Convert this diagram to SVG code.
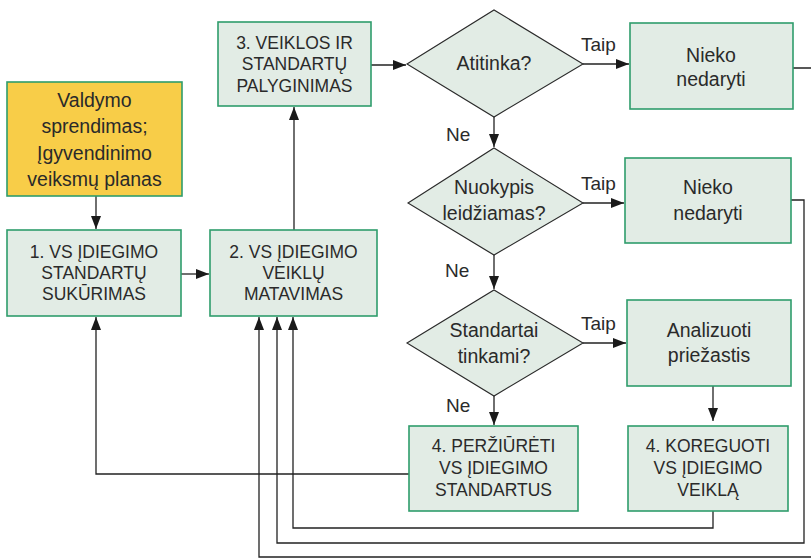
<svg xmlns="http://www.w3.org/2000/svg" width="811" height="558" viewBox="0 0 811 558">
  <style>
    .box { fill: #e2ece5; stroke: #2f9d6c; stroke-width: 1.6; }
    .yellow { fill: #f8cd48; stroke: #2f9d6c; stroke-width: 1.6; }
    .dia { fill: #e2ece5; stroke: #2a2a2a; stroke-width: 1.1; }
    .t { font-family: "Liberation Sans", Arial, sans-serif; font-size: 19.5px; fill: #2a2a2a; text-anchor: middle; }
    .c { font-family: "Liberation Sans", Arial, sans-serif; font-size: 17.5px; fill: #2a2a2a; text-anchor: middle; }
    .lbl { font-family: "Liberation Sans", Arial, sans-serif; font-size: 19px; fill: #2a2a2a; }
    .ln { fill: none; stroke: #222; stroke-width: 1.3; }
  </style>
  <defs>
    <marker id="ah" markerUnits="userSpaceOnUse" markerWidth="14" markerHeight="12" refX="13" refY="6" orient="auto">
      <path d="M0,1 L13,6 L0,11 z" fill="#1a1a1a"/>
    </marker>
  </defs>

  <rect width="811" height="558" fill="#ffffff"/>

  <!-- connectors -->
  <g id="connectors">
    <path class="ln" d="M96,196 V229" marker-end="url(#ah)"/>
    <path class="ln" d="M181,274 H209" marker-end="url(#ah)"/>
    <path class="ln" d="M294,230 V107" marker-end="url(#ah)"/>
    <path class="ln" d="M371,65 H406" marker-end="url(#ah)"/>
    <path class="ln" d="M583,64 H629" marker-end="url(#ah)"/>
    <path class="ln" d="M494,117 V147" marker-end="url(#ah)"/>
    <path class="ln" d="M583,203 H624" marker-end="url(#ah)"/>
    <path class="ln" d="M494,255 V289" marker-end="url(#ah)"/>
    <path class="ln" d="M583,343 H626" marker-end="url(#ah)"/>
    <path class="ln" d="M494,396 V425" marker-end="url(#ah)"/>
    <path class="ln" d="M713,386 V421" marker-end="url(#ah)"/>
    <path class="ln" d="M409,474 H96 V317" marker-end="url(#ah)"/>
    <path class="ln" d="M713,511 V528 H293 V317" marker-end="url(#ah)"/>
    <path class="ln" d="M791,200 H804 V543 H277 V317" marker-end="url(#ah)"/>
    <path class="ln" d="M793,68 H816 V557 H259 V317" marker-end="url(#ah)"/>
  </g>

  <g id="valdymo">
    <rect class="yellow" x="7" y="82" width="175" height="114"/>
    <text class="t" x="94.5" y="107">Valdymo</text>
    <text class="t" x="94.5" y="133">sprendimas;</text>
    <text class="t" x="94.5" y="160">Įgyvendinimo</text>
    <text class="t" x="94.5" y="186">veiksmų planas</text>
  </g>

  <g id="box1">
    <rect class="box" x="7" y="230" width="174" height="86"/>
    <text class="c" x="94" y="258">1. VS ĮDIEGIMO</text>
    <text class="c" x="94" y="279">STANDARTŲ</text>
    <text class="c" x="94" y="300">SUKŪRIMAS</text>
  </g>

  <g id="box2">
    <rect class="box" x="210" y="230" width="167" height="86"/>
    <text class="c" x="293.5" y="258">2. VS ĮDIEGIMO</text>
    <text class="c" x="293.5" y="279">VEIKLŲ</text>
    <text class="c" x="293.5" y="300">MATAVIMAS</text>
  </g>

  <g id="box3">
    <rect class="box" x="218" y="22" width="153" height="84"/>
    <text class="c" x="294.5" y="49">3. VEIKLOS IR</text>
    <text class="c" x="294.5" y="70">STANDARTŲ</text>
    <text class="c" x="294.5" y="92">PALYGINIMAS</text>
  </g>

  <g id="atitinka">
    <polygon class="dia" points="407,64 494,10 583,64 494,117"/>
    <text class="t" x="494" y="70">Atitinka?</text>
  </g>

  <g id="nieko1">
    <rect class="box" x="630" y="23" width="163" height="86"/>
    <text class="t" x="711" y="62">Nieko</text>
    <text class="t" x="711" y="86">nedaryti</text>
  </g>

  <g id="nuokypis">
    <polygon class="dia" points="408,203 494,148 583,203 494,255"/>
    <text class="t" x="494" y="194">Nuokypis</text>
    <text class="t" x="494" y="220">leidžiamas?</text>
  </g>

  <g id="nieko2">
    <rect class="box" x="625" y="158" width="166" height="85"/>
    <text class="t" x="708" y="194">Nieko</text>
    <text class="t" x="708" y="220">nedaryti</text>
  </g>

  <g id="standartai">
    <polygon class="dia" points="407,343 494,290 583,343 494,396"/>
    <text class="t" x="494" y="337">Standartai</text>
    <text class="t" x="494" y="363">tinkami?</text>
  </g>

  <g id="analizuoti">
    <rect class="box" x="627" y="300" width="164" height="86"/>
    <text class="t" x="709" y="337">Analizuoti</text>
    <text class="t" x="709" y="362">priežastis</text>
  </g>

  <g id="perziureti">
    <rect class="box" x="409" y="426" width="169" height="85"/>
    <text class="c" x="493.5" y="452">4. PERŽIŪRĖTI</text>
    <text class="c" x="493.5" y="474">VS ĮDIEGIMO</text>
    <text class="c" x="493.5" y="496">STANDARTUS</text>
  </g>

  <g id="koreguoti">
    <rect class="box" x="628" y="426" width="160" height="85"/>
    <text class="c" x="708" y="452">4. KOREGUOTI</text>
    <text class="c" x="708" y="474">VS ĮDIEGIMO</text>
    <text class="c" x="708" y="496">VEIKLĄ</text>
  </g>

  <!-- branch labels -->
  <g id="labels">
    <text class="lbl" x="581" y="51">Taip</text>
    <text class="lbl" x="581" y="190">Taip</text>
    <text class="lbl" x="581" y="330">Taip</text>
    <text class="lbl" x="446" y="141">Ne</text>
    <text class="lbl" x="445" y="277">Ne</text>
    <text class="lbl" x="446" y="412">Ne</text>
  </g>
</svg>
